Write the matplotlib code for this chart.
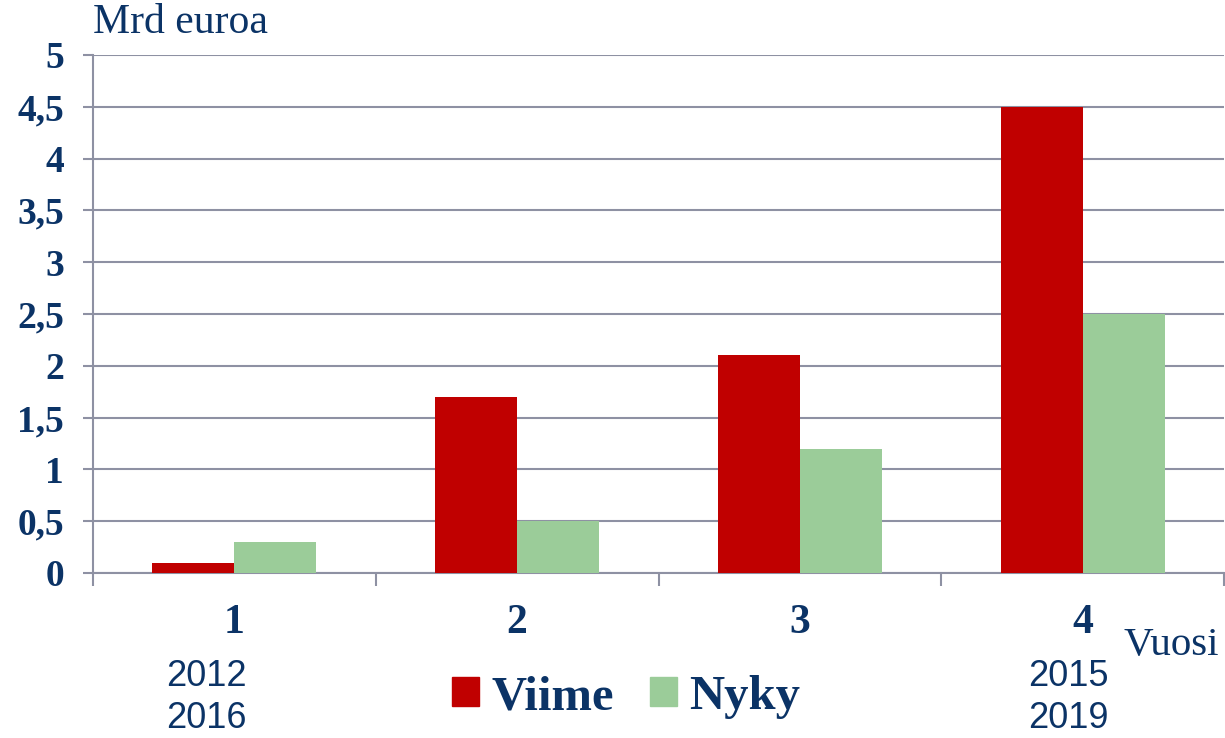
import matplotlib
matplotlib.use("Agg")
import matplotlib.pyplot as plt
from matplotlib.patches import Patch

categories = ["1", "2", "3", "4"]
viime = [0.1, 1.7, 2.1, 4.5]
nyky = [0.3, 0.5, 1.2, 2.5]
year_labels = {0: ["2012", "2016"], 3: ["2015", "2019"]}
yticks = [0, 0.5, 1, 1.5, 2, 2.5, 3, 3.5, 4, 4.5, 5]
ytick_labels = ["0", "0,5", "1", "1,5", "2", "2,5", "3", "3,5", "4", "4,5", "5"]

navy = "#0B3366"
grid_c = "#8E91A3"
red = "#C00000"
green = "#9BCC99"
serif = ["Liberation Serif", "DejaVu Serif"]
sans = ["Liberation Sans", "DejaVu Sans"]

W, H = 1225, 738
fig = plt.figure(figsize=(W / 100, H / 100), dpi=100)
ax = fig.add_axes([93 / W, 1 - 573 / H, (1224 - 93) / W, (573 - 55) / H])

x = list(range(len(categories)))
bw = 0.29
ax.bar([i - bw / 2 for i in x], viime, width=bw, color=red, zorder=3)
ax.bar([i + bw / 2 for i in x], nyky, width=bw, color=green, zorder=3)

ax.set_xlim(-0.5, len(categories) - 0.5)
ax.set_ylim(0, 5)
ax.set_yticks(yticks)
ax.set_yticklabels(ytick_labels, fontfamily=serif, fontweight="bold", fontsize=27, color=navy)
ax.yaxis.grid(True, color=grid_c, linewidth=1.5, zorder=0)
ax.tick_params(axis="y", length=7, width=1.5, color=grid_c, pad=14)

ax.set_xticks(x)
ax.set_xticklabels(categories, fontfamily=serif, fontweight="bold", fontsize=30, color=navy)
ax.tick_params(axis="x", which="major", length=0, pad=22)
ax.set_xticks([i - 0.5 for i in range(len(categories) + 1)], minor=True)
ax.tick_params(axis="x", which="minor", length=9, width=1.5, color=grid_c, direction="out")

for s in ["top", "right"]:
    ax.spines[s].set_visible(False)
for s in ["left", "bottom"]:
    ax.spines[s].set_color(grid_c)
    ax.spines[s].set_linewidth(1.5)

year_x = {0: 206, 3: 1068}
for i, yrs in year_labels.items():
    xf = year_x[i] / W
    fig.text(xf, 1 - 677 / H, yrs[0], ha="center", va="center", fontfamily=sans, fontsize=26, color=navy)
    fig.text(xf, 1 - 719 / H, yrs[1], ha="center", va="center", fontfamily=sans, fontsize=26, color=navy)

fig.text(93 / W, 1 - 23 / H, "Mrd euroa", ha="left", va="center", fontfamily=serif, fontsize=30, color=navy)
fig.text(1219 / W, 1 - 645 / H, "Vuosi", ha="right", va="center", fontfamily=serif, fontsize=29.5, color=navy)

handles = [Patch(color=red, label="Viime"), Patch(color=green, label="Nyky")]
fig.legend(handles=handles, loc="center", bbox_to_anchor=(626 / W, 1 - 697 / H), ncol=2, frameon=False,
           prop={"family": serif, "weight": "bold", "size": 35}, labelcolor=navy,
           handlelength=0.55, handleheight=0.55, handletextpad=0.25, columnspacing=0.75)

fig.savefig("out.png", dpi=100)
